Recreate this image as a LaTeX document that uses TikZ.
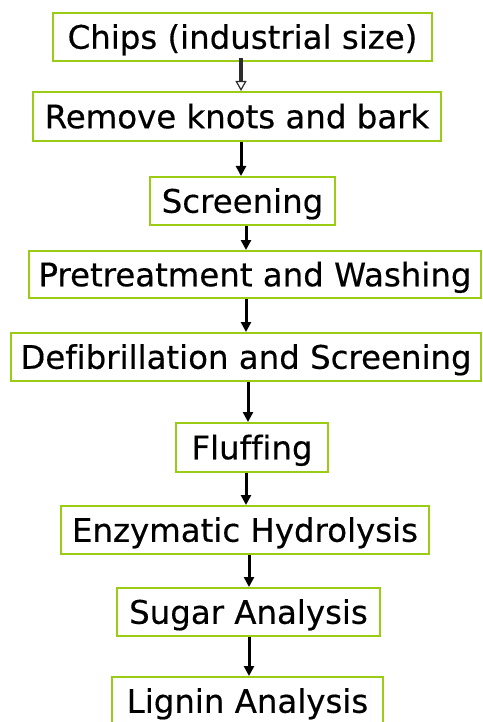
\documentclass[tikz,border=0pt]{standalone}
\usepackage{fontspec}
\setmainfont[Ligatures=NoCommon,FakeBold=0.4]{DejaVu Sans}
\usetikzlibrary{arrows.meta}
\definecolor{boxgreen}{RGB}{155,204,20}
\definecolor{arrowgray}{RGB}{45,45,45}
\tikzset{
  stepbox/.style={draw=boxgreen, line width=2pt, fill=white, inner sep=0pt,
    minimum height=48pt, font=\fontsize{32.4}{32.4}\selectfont,
    text height=23.5pt, text depth=0pt},
  arr/.style={line width=3pt, -{Triangle[width=10pt,length=10pt]}},
  hollowarr/.style={line width=3.4pt, draw=arrowgray,
    -{Triangle[open,width=11pt,length=10pt,fill=white,line width=1.2pt]}}
}
\begin{document}
\begin{tikzpicture}[x=1pt,y=-1pt]
\useasboundingbox (0,0) rectangle (482,722);
\node[stepbox, minimum width=379pt] (b1) at (242.5,37) {Chips (industrial size)};
\node[stepbox, minimum width=408pt, minimum height=49pt] (b2) at (237,116.5) {Remove knots and bark};
\node[stepbox, minimum width=185pt] (b3) at (242.5,201) {Screening};
\node[stepbox, minimum width=452pt, minimum height=47pt] (b4) at (255,274.5) {Pretreatment and Washing};
\node[stepbox, minimum width=470pt] (b5) at (246,357) {Defibrillation and Screening};
\node[stepbox, minimum width=152pt, minimum height=49pt] (b6) at (252,447.5) {Fluffing};
\node[stepbox, minimum width=368pt] (b7) at (245,530) {Enzymatic Hydrolysis};
\node[stepbox, minimum width=263pt] (b8) at (248.5,612) {Sugar Analysis};
\node[stepbox, minimum width=271pt] (b9) at (247.5,701) {Lignin Analysis};
\coordinate (x1) at (241,0);
\coordinate (x2) at (241,0);
\coordinate (x3) at (246,0);
\coordinate (x4) at (246,0);
\coordinate (x5) at (248,0);
\coordinate (x6) at (246,0);
\coordinate (x7) at (249,0);
\coordinate (x8) at (249,0);
\draw[hollowarr] ([yshift=4pt]b1.south -| x1) -- (b2.north -| x1);
\draw[arr] (b2.south -| x2) -- (b3.north -| x2);
\draw[arr] (b3.south -| x3) -- (b4.north -| x3);
\draw[arr] (b4.south -| x4) -- (b5.north -| x4);
\draw[arr] (b5.south -| x5) -- (b6.north -| x5);
\draw[arr] (b6.south -| x6) -- (b7.north -| x6);
\draw[arr] (b7.south -| x7) -- (b8.north -| x7);
\draw[arr] (b8.south -| x8) -- (b9.north -| x8);
\end{tikzpicture}
\end{document}
